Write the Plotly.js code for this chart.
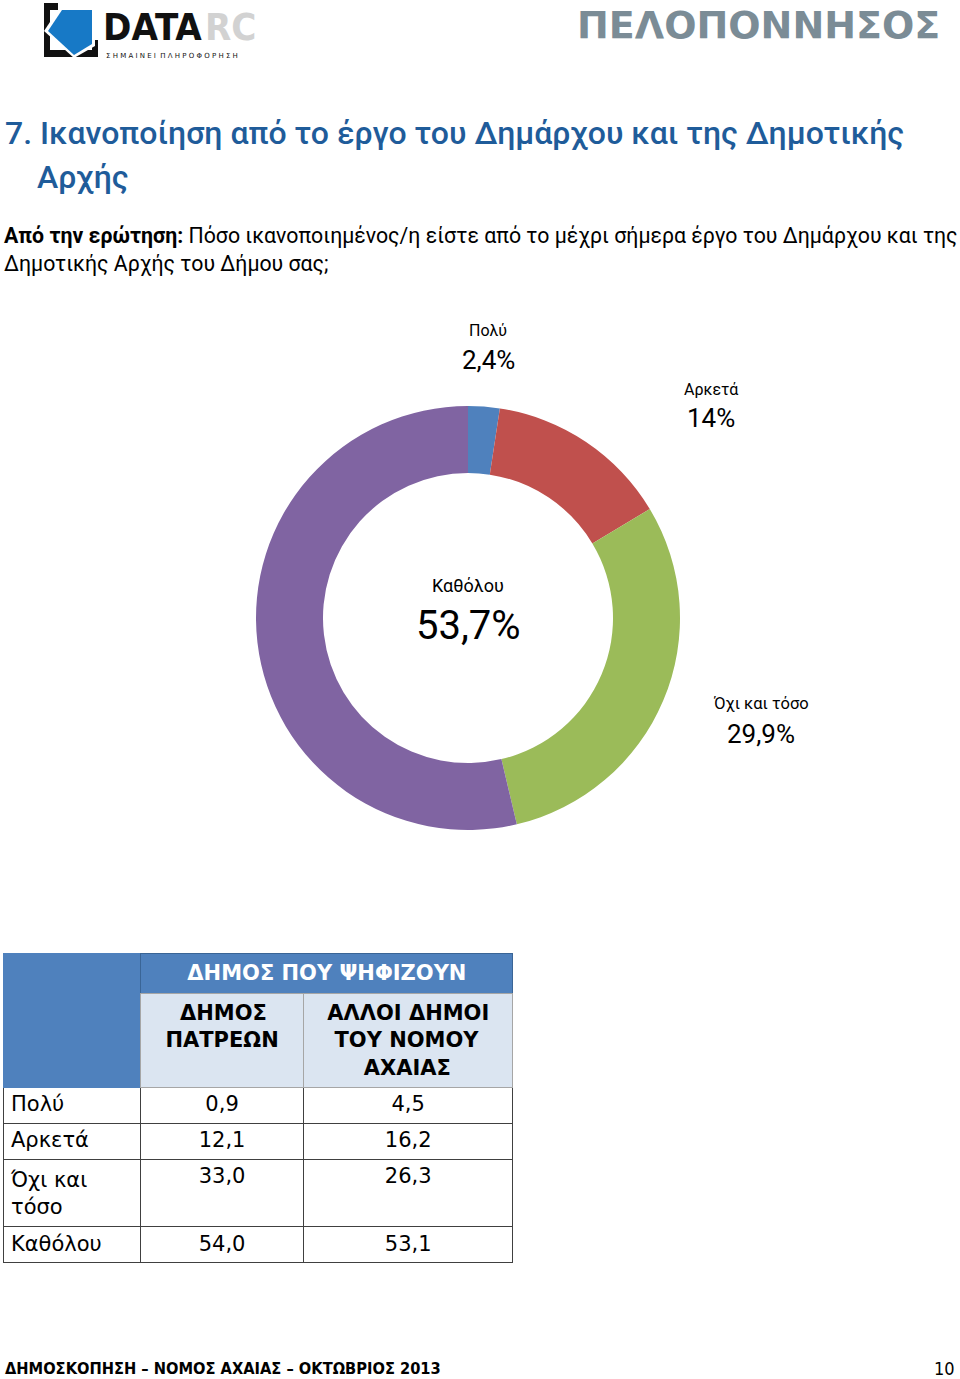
<!DOCTYPE html>
<html>
<head>
<meta charset="utf-8">
<script src="https://cdn.plot.ly/plotly-3.0.1.min.js"></script>
<style>
  html, body { margin: 0; padding: 0; background: #ffffff; }
  #chart { width: 960px; height: 1379px; }
</style>
</head>
<body>
<div id="chart"></div>
<script>
// ---------------- DATA ----------------
const sliceLabels = ["Πολύ", "Αρκετά", "Όχι και τόσο", "Καθόλου"];
const sliceValues = [2.4, 14, 29.9, 53.7];
const sliceText = ["2,4%", "14%", "29,9%", "53,7%"];
const sliceColors = ["#4F81BD", "#C0504D", "#9BBB59", "#8064A2"];

const tableGroupHeader = "ΔΗΜΟΣ ΠΟΥ ΨΗΦΙΖΟΥΝ";
const tableColHeaders = ["", "\u00A0\u00A0ΔΗΜΟΣ<br>ΠΑΤΡΕΩΝ", "ΑΛΛΟΙ ΔΗΜΟΙ<br>\u00A0ΤΟΥ ΝΟΜΟΥ<br>\u00A0\u00A0\u00A0\u00A0\u00A0ΑΧΑΙΑΣ"];
const tableRowLabels = ["Πολύ", "Αρκετά", "Όχι και<br>τόσο", "Καθόλου"];
const patraValues = [0.9, 12.1, 33.0, 54.0];
const otherValues = [4.5, 16.2, 26.3, 53.1];

const titleLine1 = "7. Ικανοποίηση από το έργο του Δημάρχου και της Δημοτικής";
const titleLine2 = "Αρχής";
const questionLead = "Από την ερώτηση:";
const questionLine1 = "Πόσο ικανοποιημένος/η είστε από το μέχρι σήμερα έργο του Δημάρχου και της";
const questionLine2 = "Δημοτικής Αρχής του Δήμου σας;";
const footerText = "ΔΗΜΟΣΚΟΠΗΣΗ – ΝΟΜΟΣ ΑΧΑΙΑΣ – ΟΚΤΩΒΡΙΟΣ 2013";
const pageNumber = "10";
const regionText = "ΠΕΛΟΠΟΝΝΗΣΟΣ";

// ---------------- LAYOUT HELPERS ----------------
const W = 960, H = 1379;
const X = px => px / W;
const Y = py => 1 - py / H;
const fmt = v => v.toFixed(1).replace(".", ",");

const labelFont = "Roboto, 'Noto Sans', sans-serif";
const tableFont = "'DejaVu Sans', Verdana, sans-serif";
const condFont = "'DejaVu Sans Condensed', 'DejaVu Sans', sans-serif";

// label placements for the donut (page pixels)
const labelPos = [
  {x: 488, yName: 330, yVal: 360, nameSize: 16, valSize: 26},
  {x: 711, yName: 389, yVal: 418, nameSize: 16, valSize: 26},
  {x: 761, yName: 703, yVal: 734, nameSize: 16.5, valSize: 26},
  {x: 468, yName: 585, yVal: 625, nameSize: 18, valSize: 40}
];

const annotations = [];
sliceLabels.forEach((lab, i) => {
  const p = labelPos[i];
  annotations.push({
    text: lab, x: X(p.x), y: Y(p.yName), xref: "paper", yref: "paper",
    xanchor: "center", yanchor: "middle", showarrow: false,
    font: {family: labelFont, size: p.nameSize, color: "#000000"}
  });
  annotations.push({
    text: sliceText[i], x: X(p.x), y: Y(p.yVal), xref: "paper", yref: "paper",
    xanchor: "center", yanchor: "middle", showarrow: false,
    font: {family: labelFont, size: p.valSize, color: "#000000"}
  });
});

// title line 2
annotations.push({
  text: titleLine2, x: X(35), y: Y(177), xref: "paper", yref: "paper",
  xanchor: "left", yanchor: "middle", showarrow: false,
  font: {family: labelFont, size: 32, color: "#1F5C9A", weight: 500}
});
// question
annotations.push({
  text: "<b>" + questionLead + "</b> " + questionLine1 + "<br>" + questionLine2,
  x: X(2), y: Y(249), xref: "paper", yref: "paper", align: "left",
  xanchor: "left", yanchor: "middle", showarrow: false,
  font: {family: labelFont, size: 21.3, color: "#000000"}
});
// footer
annotations.push({
  text: "<b>" + footerText + "</b>", x: X(3), y: Y(1368), xref: "paper", yref: "paper",
  xanchor: "left", yanchor: "middle", showarrow: false,
  font: {family: condFont, size: 16.3, color: "#000000"}
});
annotations.push({
  text: pageNumber, x: X(957), y: Y(1368), xref: "paper", yref: "paper",
  xanchor: "right", yanchor: "middle", showarrow: false,
  font: {family: condFont, size: 18, color: "#000000"}
});
// region name
annotations.push({
  text: "<b>" + regionText + "</b>", x: X(942), y: Y(25), xref: "paper", yref: "paper",
  xanchor: "right", yanchor: "middle", showarrow: false,
  font: {family: "'DejaVu Sans', sans-serif", size: 38, color: "#7B8C96"}
});
// logo texts
annotations.push({
  text: "<b>DATA</b>", x: X(101), y: Y(27), xref: "paper", yref: "paper",
  xanchor: "left", yanchor: "middle", showarrow: false,
  font: {family: condFont, size: 38, color: "#111111"}
});
annotations.push({
  text: "<b>RC</b>", x: X(203), y: Y(27), xref: "paper", yref: "paper",
  xanchor: "left", yanchor: "middle", showarrow: false,
  font: {family: condFont, size: 38, color: "#D2D2D2"}
});
annotations.push({
  text: "Σ Η Μ Α Ι Ν Ε Ι  Π Λ Η Ρ Ο Φ Ο Ρ Η Σ Η", x: X(104), y: Y(56), xref: "paper", yref: "paper",
  xanchor: "left", yanchor: "middle", showarrow: false,
  font: {family: "'DejaVu Sans', sans-serif", size: 7, color: "#111111"}
});

// logo icon shapes (paper coordinates)
function rect(x0, y0, x1, y1, color) {
  return {type: "rect", xref: "paper", yref: "paper", x0: X(x0), x1: X(x1), y0: Y(y1), y1: Y(y0),
          fillcolor: color, line: {width: 0}, layer: "above"};
}
function poly(pts, color) {
  const d = pts.map((p, i) => (i ? "L" : "M") + X(p[0]) + "," + Y(p[1])).join(" ") + " Z";
  return {type: "path", xref: "paper", yref: "paper", path: d, fillcolor: color, line: {width: 0}, layer: "above"};
}
const shapes = [
  rect(44, 3, 58, 10, "#111111"),
  rect(44, 3, 50, 57, "#111111"),
  rect(44, 50, 98, 57, "#111111"),
  rect(92, 40, 98, 57, "#111111"),
  poly([[60, 7], [95, 7], [95, 46], [74, 58], [44, 31]], "#FFFFFF"),
  poly([[62, 10], [92, 10], [92, 44], [74, 55], [48, 31]], "#1779C6")
];

// ---------------- TRACES ----------------
const donut = {
  type: "pie",
  labels: sliceLabels,
  values: sliceValues,
  marker: {colors: sliceColors, line: {width: 0}},
  hole: 0.684,
  sort: false,
  direction: "clockwise",
  rotation: 0,
  textinfo: "none",
  hoverinfo: "label+percent",
  showlegend: false,
  domain: {x: [X(256), X(680)], y: [Y(830), Y(406)]}
};

// top "group" header row (its one dummy body row is covered by the main table)
const tableTop = {
  type: "table",
  columnwidth: [138, 373],
  domain: {x: [X(3), X(514)], y: [Y(1100), Y(953)]},
  header: {
    values: ["", "<b>" + tableGroupHeader + "</b>"],
    align: "center",
    height: 40,
    fill: {color: "#4F81BD"},
    line: {color: ["#4F81BD", "#3A6596"], width: 1},
    font: {family: tableFont, size: 21, color: "#FFFFFF"}
  },
  cells: {
    values: [[""], [""]],
    height: 20,
    fill: {color: "#4F81BD"},
    line: {color: "#4F81BD", width: 0},
    font: {family: tableFont, size: 8, color: "#4F81BD"}
  }
};

const tableMain = {
  type: "table",
  columnwidth: [138, 163, 210],
  domain: {x: [X(3), X(514)], y: [Y(1340), Y(993)]},
  header: {
    values: tableColHeaders.map(h => h ? "<b>" + h + "</b>" : ""),
    align: "center",
    height: 92,
    fill: {color: ["#4F81BD", "#DBE5F1", "#DBE5F1"]},
    line: {color: ["#4F81BD", "#A6A6A6", "#A6A6A6"], width: 1},
    font: {family: tableFont, size: 21, color: "#000000"}
  },
  cells: {
    values: [tableRowLabels, patraValues.map(fmt), otherValues.map(fmt)],
    align: ["left", "center", "center"],
    height: 36,
    fill: {color: "#FFFFFF"},
    line: {color: "#404040", width: 1},
    font: {family: tableFont, size: 21, color: "#000000"}
  }
};

const layout = {
  width: W, height: H,
  margin: {l: 0, r: 0, t: 0, b: 0},
  paper_bgcolor: "#FFFFFF",
  plot_bgcolor: "#FFFFFF",
  showlegend: false,
  title: {
    text: titleLine1, x: X(5), xanchor: "left", xref: "paper",
    y: Y(133), yanchor: "middle", yref: "paper",
    font: {family: labelFont, size: 32, color: "#1F5C9A", weight: 500}
  },
  annotations: annotations,
  shapes: shapes
};

Plotly.newPlot("chart", [donut, tableTop, tableMain], layout, {displayModeBar: false, staticPlot: true});
</script>
</body>
</html>
